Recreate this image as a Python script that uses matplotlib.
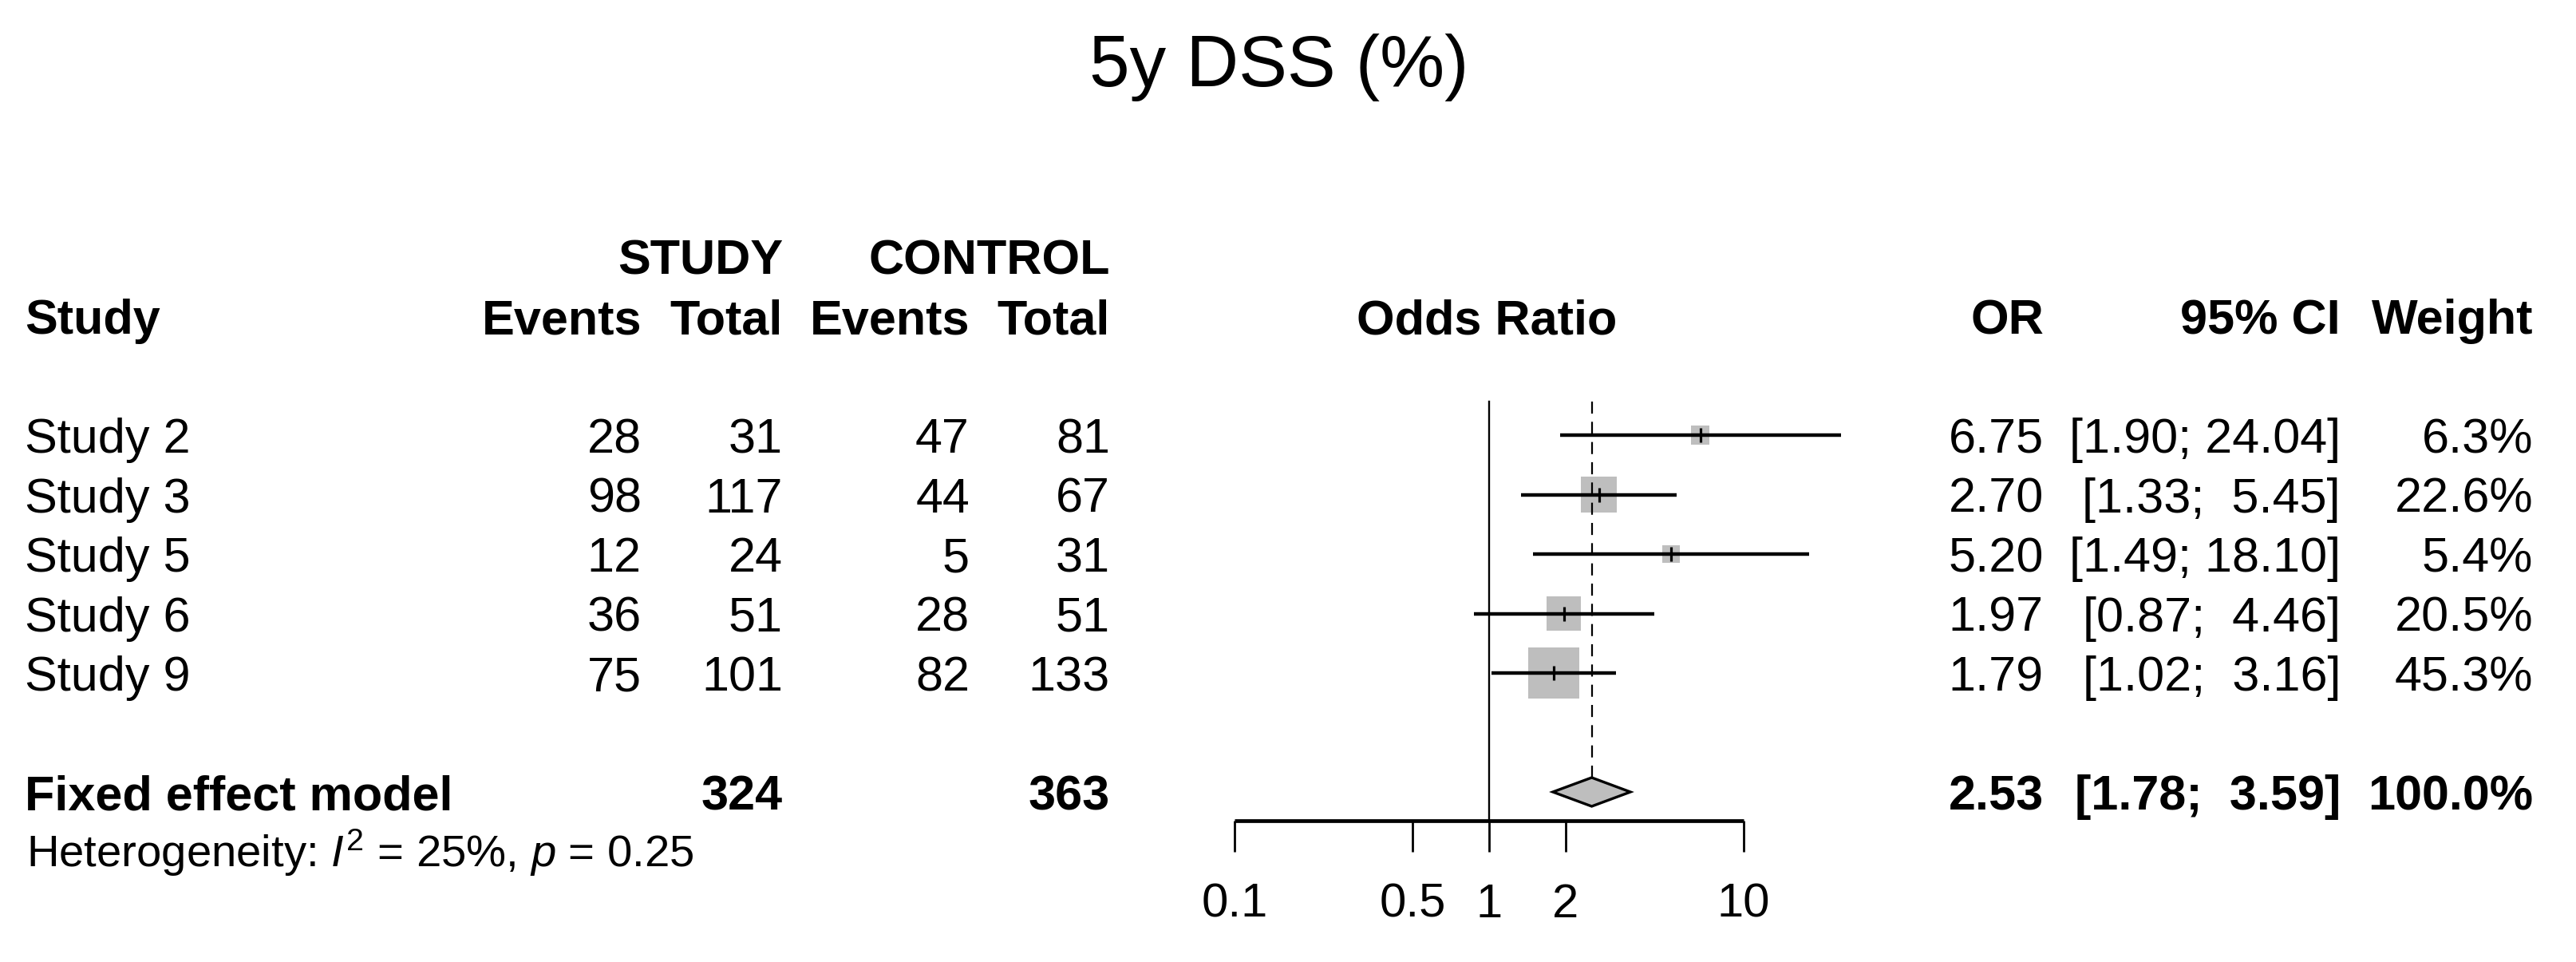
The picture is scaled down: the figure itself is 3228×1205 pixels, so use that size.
import matplotlib
matplotlib.use('Agg')
import matplotlib.pyplot as plt
from matplotlib.patches import Polygon
from matplotlib.ticker import FixedLocator, FixedFormatter, NullLocator
import numpy as np

plt.rcParams['font.family'] = ['Liberation Sans', 'DejaVu Sans']
plt.rcParams['mathtext.fontset'] = 'custom'
plt.rcParams['mathtext.rm'] = 'Liberation Sans'
plt.rcParams['mathtext.it'] = 'Liberation Sans:italic'

# 数据
studies = ['Study 2', 'Study 3', 'Study 5', 'Study 6', 'Study 9']
ev_study = [28, 98, 12, 36, 75]
n_study = [31, 117, 24, 51, 101]
ev_ctrl = [47, 44, 5, 28, 82]
n_ctrl = [81, 67, 31, 51, 133]
or_est = [6.75, 2.70, 5.20, 1.97, 1.79]
ci_lo = [1.90, 1.33, 1.49, 0.87, 1.02]
ci_hi = [24.04, 5.45, 18.10, 4.46, 3.16]
weight = [6.3, 22.6, 5.4, 20.5, 45.3]

pooled_or = 2.53
pooled_lo = 1.78
pooled_hi = 3.59
total_study = 324
total_ctrl = 363
het_i2 = 25
het_p = 0.25

x_ticks = [0.1, 0.5, 1, 2, 10]
x_ticklabels = ['0.1', '0.5', '1', '2', '10']

title = '5y DSS (%)'

# 画布 (像素布局)
W, H = 3228, 1205
DPI = 100
fig = plt.figure(figsize=(W / DPI, H / DPI), dpi=DPI)

row_px = 74.5
row0_px = 545


def px2row(y):
    return (y - row0_px) / row_px


ytop, ybot = px2row(0), px2row(H)

tab = fig.add_axes([0, 0, 1, 1])
tab.set_xlim(0, W)
tab.set_ylim(ybot, ytop)
tab.axis('off')

fs = 44
base = 0.3
gray = '#BEBEBE'

# 列位置
col_name = 31
col_ev1, col_n1 = 804, 981
col_ev2, col_n2 = 1215, 1391
col_plot = 1863
col_or, col_ci, col_w = 2561, 2933, 3174

tab.text(1603, px2row(108), title, ha='center', va='baseline', fontsize=65.5)

# 表头
tab.text(col_n1, -3 + base, 'STUDY', ha='right', va='baseline', fontsize=fs, fontweight='bold')
tab.text(col_n2, -3 + base, 'CONTROL', ha='right', va='baseline', fontsize=fs, fontweight='bold')
headers = [(col_name, 'Study', 'left'), (col_ev1, 'Events', 'right'), (col_n1, 'Total', 'right'),
           (col_ev2, 'Events', 'right'), (col_n2, 'Total', 'right'), (col_plot, 'Odds Ratio', 'center'),
           (col_or, 'OR', 'right'), (col_ci, '95% CI', 'right'), (col_w, 'Weight', 'right')]
for x, s, ha in headers:
    tab.text(x, -2 + base, s, ha=ha, va='baseline', fontsize=fs, fontweight='bold')


def fmt_ci(lo, hi):
    return f'[{lo:.2f}; {hi:5.2f}]'


# 各研究
for i, name in enumerate(studies):
    y = i + base
    tab.text(col_name, y, name, ha='left', va='baseline', fontsize=fs)
    tab.text(col_ev1, y, str(ev_study[i]), ha='right', va='baseline', fontsize=fs)
    tab.text(col_n1, y, str(n_study[i]), ha='right', va='baseline', fontsize=fs)
    tab.text(col_ev2, y, str(ev_ctrl[i]), ha='right', va='baseline', fontsize=fs)
    tab.text(col_n2, y, str(n_ctrl[i]), ha='right', va='baseline', fontsize=fs)
    tab.text(col_or, y, f'{or_est[i]:.2f}', ha='right', va='baseline', fontsize=fs)
    tab.text(col_ci, y, fmt_ci(ci_lo[i], ci_hi[i]), ha='right', va='baseline', fontsize=fs)
    tab.text(col_w, y, f'{weight[i]:.1f}%', ha='right', va='baseline', fontsize=fs)

# 合并效应
yf = 6
tab.text(col_name, yf + base, 'Fixed effect model', ha='left', va='baseline', fontsize=fs, fontweight='bold')
tab.text(col_n1, yf + base, str(total_study), ha='right', va='baseline', fontsize=fs, fontweight='bold')
tab.text(col_n2, yf + base, str(total_ctrl), ha='right', va='baseline', fontsize=fs, fontweight='bold')
tab.text(col_or, yf + base, f'{pooled_or:.2f}', ha='right', va='baseline', fontsize=fs, fontweight='bold')
tab.text(col_ci, yf + base, fmt_ci(pooled_lo, pooled_hi), ha='right', va='baseline', fontsize=fs, fontweight='bold')
tab.text(col_w, yf + base, '100.0%', ha='right', va='baseline', fontsize=fs, fontweight='bold')

tab.text(col_name + 2, 7.26, f'Heterogeneity: $I^2$ = {het_i2}%, $p$ = {het_p:.2f}',
         ha='left', va='baseline', fontsize=40.5)

# 森林图
fax = fig.add_axes([1547 / W, 0, (2185 - 1547) / W, 1])
fax.set_xscale('log')
fax.set_xlim(0.1, 10)
fax.set_ylim(ybot, ytop)
fax.patch.set_visible(False)
for s in ['top', 'left', 'right']:
    fax.spines[s].set_visible(False)
fax.spines['bottom'].set_position(('data', px2row(1028)))
fax.spines['bottom'].set_linewidth(3.4)
fax.spines['bottom'].set_capstyle('butt')
fax.xaxis.set_major_locator(FixedLocator(x_ticks))
fax.xaxis.set_major_formatter(FixedFormatter(x_ticklabels))
fax.xaxis.set_minor_locator(NullLocator())
fax.tick_params(axis='x', direction='out', length=28, width=2.0, pad=28, labelsize=43)
fax.set_yticks([])

line_top = px2row(503)
h = 18 / row_px
fax.plot([1, 1], [line_top, px2row(1028)], color='black', lw=1.7)
fax.plot([pooled_or, pooled_or], [line_top, yf - h], color='black', lw=1.6, ls=(0, (6.8, 4.6)))

rows = np.arange(len(studies))
side_px = 64 * np.sqrt(np.array(weight) / max(weight))
fax.scatter(or_est, rows, s=(side_px * 0.72) ** 2, marker='s', color=gray, linewidths=0, zorder=1)
for i in rows:
    fax.plot([ci_lo[i], ci_hi[i]], [i, i], color='black', lw=3.2, solid_capstyle='butt',
             clip_on=False, zorder=2)
fax.scatter(or_est, rows, s=13 ** 2, marker='|', color='black', linewidths=2.3, zorder=3)

diamond = Polygon([(pooled_lo, yf), (pooled_or, yf - h), (pooled_hi, yf), (pooled_or, yf + h)],
                  closed=True, facecolor=gray, edgecolor='black', lw=2.4, zorder=3)
fax.add_patch(diamond)

fig.savefig('out.png', dpi=DPI)
